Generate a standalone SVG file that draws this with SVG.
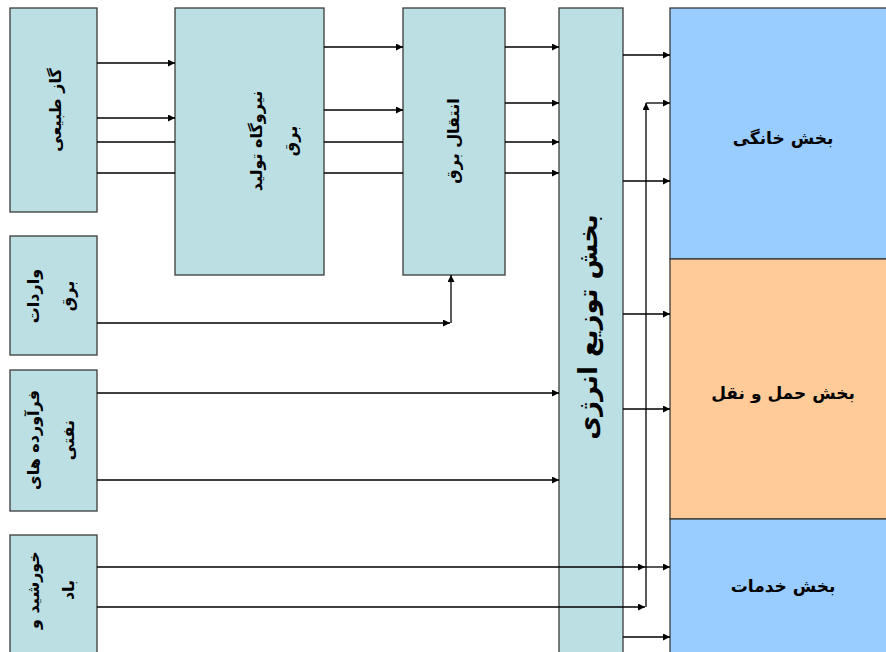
<svg xmlns="http://www.w3.org/2000/svg" width="886" height="652" viewBox="0 0 886 652">
<style>
.box{fill:#bcdfe3;stroke:#3a3a3a;stroke-width:1.3}
.blue{fill:#99ccff;stroke:#3a3a3a;stroke-width:1.3}
.orange{fill:#ffcc99;stroke:#3a3a3a;stroke-width:1.3}
.t{font-family:"DejaVu Sans","Noto Sans",sans-serif;font-weight:bold;fill:#000;text-anchor:middle}
.s{font-size:16px}
.m{font-size:17px}
.l{font-size:26px}
.c{fill:none;stroke:#000;stroke-width:1.3}
</style>
<defs>
<marker id="ah" viewBox="0 0 10 10" refX="10" refY="5" markerWidth="9" markerHeight="7" orient="auto" markerUnits="userSpaceOnUse"><path d="M0,0 L10,5 L0,10 z" fill="#000"/></marker>
</defs>
<rect width="886" height="652" fill="#fff"/>
<g id="gas"><rect class="box" x="10" y="8" width="87" height="204"/><text class="t s" transform="translate(61,110) rotate(-90)" direction="rtl">گاز طبیعی</text></g>
<g id="imports"><rect class="box" x="10" y="236" width="87" height="119"/><text class="t s" transform="translate(39,296) rotate(-90)" direction="rtl">واردات</text><text class="t s" transform="translate(74,296) rotate(-90)" direction="rtl">برق</text></g>
<g id="oil"><rect class="box" x="10" y="370" width="87" height="141"/><text class="t s" transform="translate(39,440) rotate(-90)" direction="rtl">فرآورده های</text><text class="t s" transform="translate(74,440) rotate(-90)" direction="rtl">نفتی</text></g>
<g id="sunwind"><rect class="box" x="10" y="535" width="87" height="130"/><text class="t s" transform="translate(39,590) rotate(-90)" direction="rtl">خورشید و</text><text class="t s" transform="translate(74,590) rotate(-90)" direction="rtl">باد</text></g>
<g id="powerplant"><rect class="box" x="175" y="8" width="149" height="267"/><text class="t s" transform="translate(262,141) rotate(-90)" direction="rtl">نیروگاه تولید</text><text class="t s" transform="translate(297,141) rotate(-90)" direction="rtl">برق</text></g>
<g id="transmission"><rect class="box" x="403" y="8" width="102" height="267"/><text class="t s" transform="translate(459,141) rotate(-90)" direction="rtl">انتقال برق</text></g>
<g id="distribution"><rect class="box" x="559" y="8" width="64" height="660"/><text class="t l" transform="translate(597,327) rotate(-90)" direction="rtl">بخش توزیع انرژی</text></g>
<g id="household"><rect class="blue" x="670" y="8" width="230" height="251"/><text class="t m" x="783" y="144" direction="rtl">بخش خانگی</text></g>
<g id="transport"><rect class="orange" x="670" y="259" width="230" height="260"/><text class="t m" x="783" y="399" direction="rtl">بخش حمل و نقل</text></g>
<g id="services"><rect class="blue" x="670" y="519" width="230" height="150"/><text class="t m" x="783" y="592" direction="rtl">بخش خدمات</text></g>
<g id="connectors">
<path class="c" d="M97,63 H175" marker-end="url(#ah)"/>
<path class="c" d="M97,118 H175" marker-end="url(#ah)"/>
<path class="c" d="M97,142 H175"/>
<path class="c" d="M97,173 H175"/>
<path class="c" d="M324,47 H403" marker-end="url(#ah)"/>
<path class="c" d="M324,110 H403" marker-end="url(#ah)"/>
<path class="c" d="M324,142 H403"/>
<path class="c" d="M324,173 H403"/>
<path class="c" d="M505,47 H559" marker-end="url(#ah)"/>
<path class="c" d="M505,103 H559" marker-end="url(#ah)"/>
<path class="c" d="M505,142 H559" marker-end="url(#ah)"/>
<path class="c" d="M505,173 H559" marker-end="url(#ah)"/>
<path class="c" d="M97,323 H450" marker-end="url(#ah)"/>
<path class="c" d="M451,323 V275" marker-end="url(#ah)"/>
<path class="c" d="M97,393 H559" marker-end="url(#ah)"/>
<path class="c" d="M97,480 H559" marker-end="url(#ah)"/>
<path class="c" d="M97,567 H645" marker-end="url(#ah)"/>
<path class="c" d="M645,567 H670" marker-end="url(#ah)"/>
<path class="c" d="M97,607 H645" marker-end="url(#ah)"/>
<path class="c" d="M646,607 V103" marker-end="url(#ah)"/>
<path class="c" d="M646,103 H670" marker-end="url(#ah)"/>
<path class="c" d="M623,55 H670" marker-end="url(#ah)"/>
<path class="c" d="M623,181 H670" marker-end="url(#ah)"/>
<path class="c" d="M623,314 H670" marker-end="url(#ah)"/>
<path class="c" d="M623,409 H670" marker-end="url(#ah)"/>
<path class="c" d="M623,637 H670" marker-end="url(#ah)"/>
</g>
</svg>
